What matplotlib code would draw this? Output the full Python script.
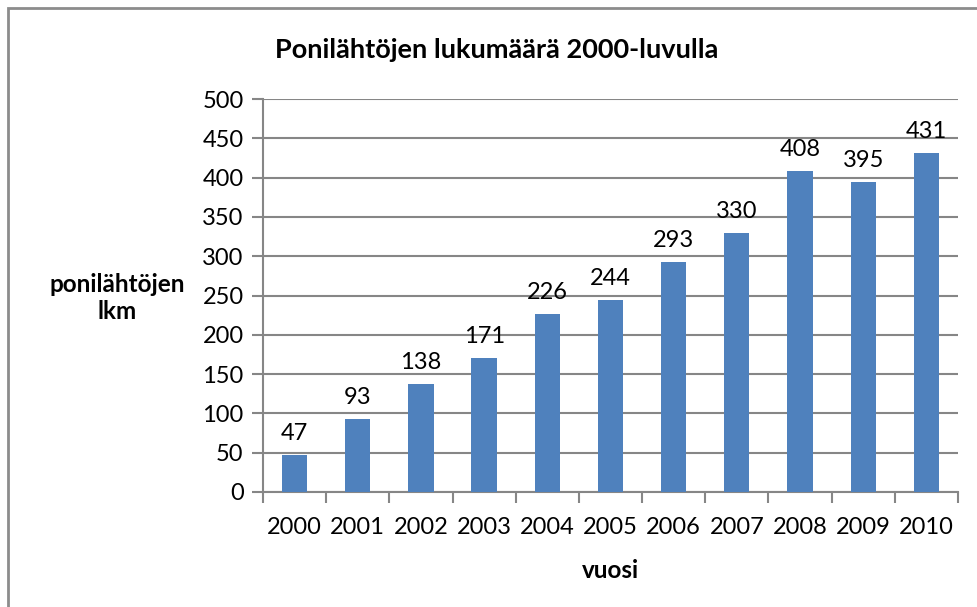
import matplotlib.pyplot as plt
from matplotlib.patches import Rectangle

years = ['2000', '2001', '2002', '2003', '2004', '2005', '2006', '2007', '2008', '2009', '2010']
starts = [47, 93, 138, 171, 226, 244, 293, 330, 408, 395, 431]
yticks = [0, 50, 100, 150, 200, 250, 300, 350, 400, 450, 500]

plt.rcParams['font.family'] = ['Lato', 'DejaVu Sans']

W, H = 978, 607
fig = plt.figure(figsize=(W / 100, H / 100), dpi=100)
ax = fig.add_axes([263 / W, 1 - 492 / H, (958 - 263) / W, (492 - 99) / H])

# outer chart frame (cut off on right and bottom in the original)
fig.patches.append(Rectangle((8 / W, -0.1), 1.2, 1 - 8 / H + 0.1, transform=fig.transFigure,
                             fill=False, edgecolor='#8c8c8c', linewidth=2))

grey = '#868686'
x = range(len(years))
ax.bar(x, starts, width=0.4, color='#4F81BD', zorder=3)
for i, v in enumerate(starts):
    ax.text(i, v + 14, str(v), ha='center', va='bottom', fontsize=17)

ax.set_xlim(-0.5, len(years) - 0.5)
ax.set_ylim(0, 500)
ax.set_yticks(yticks)
ax.set_yticklabels([str(t) for t in yticks], fontsize=17)
ax.set_xticks(x)
ax.set_xticklabels(years, fontsize=17)
ax.tick_params(axis='x', length=0, pad=18)
ax.set_xticks([i - 0.5 for i in range(len(years) + 1)], minor=True)
ax.tick_params(axis='x', which='minor', length=8, width=1.5, color=grey)
ax.tick_params(axis='y', length=8, width=1.5, color=grey, pad=6)
ax.grid(axis='y', color=grey, linewidth=1.5, zorder=0)

for s in ['top', 'right']:
    ax.spines[s].set_visible(False)
for s in ['left', 'bottom']:
    ax.spines[s].set_color(grey)
    ax.spines[s].set_linewidth(1.5)

fig.text(497 / W, 1 - 50 / H, 'Ponilähtöjen lukumäärä 2000-luvulla', ha='center', va='center',
         fontsize=19.5, fontweight='bold')
fig.text(117 / W, 1 - 298 / H, 'ponilähtöjen\nlkm', ha='center', va='center',
         fontsize=17.5, fontweight='bold', linespacing=1.25)
fig.text(610 / W, 1 - 570 / H, 'vuosi', ha='center', va='center', fontsize=17.5, fontweight='bold')

fig.savefig('out.png', dpi=100)
